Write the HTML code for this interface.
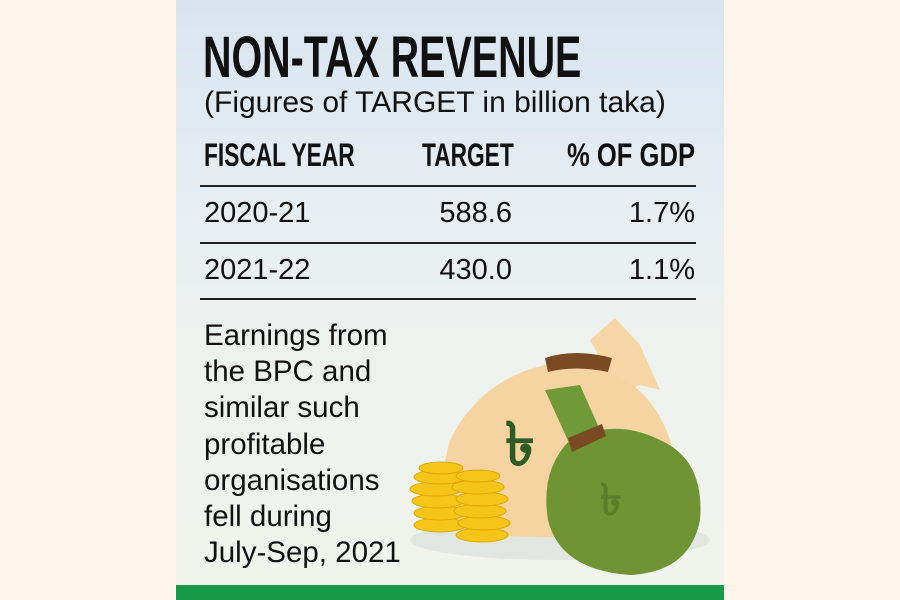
<!DOCTYPE html>
<html><head><meta charset="utf-8"><style>
html,body{margin:0;padding:0}
body{width:900px;height:600px;background:#fdf4ea;position:relative;overflow:hidden;font-family:"Liberation Sans",sans-serif;color:#111}
#panel{position:absolute;left:176px;top:0;width:548px;height:600px;background:linear-gradient(#d9e4ef 0%,#e6edf2 30%,#eef2ee 60%,#f1f4ec 100%)}
#bar{position:absolute;left:176px;top:585px;width:548px;height:15px;background:#179a49}
.t{position:absolute;white-space:nowrap;transform-origin:left top}
.b{font-weight:bold}
.rt{position:absolute;white-space:nowrap;text-align:right}
.line{position:absolute;left:200px;width:496px;height:2px;background:#222}
</style></head><body>
<div id="panel"></div>
<div id="bar"></div>
<div class="t b" style="left:203px;top:24px;font-size:58px;transform:scaleX(0.68)">NON-TAX REVENUE</div>
<div class="t" style="left:204px;top:86px;font-size:30px;">(Figures of TARGET in billion taka)</div>
<div class="t b" style="left:204px;top:137px;font-size:32px;transform:scaleX(0.71)">FISCAL YEAR</div>
<div class="t b" style="left:422px;top:137px;font-size:32px;transform:scaleX(0.71)">TARGET</div>
<div class="t b" style="left:567px;top:137px;font-size:32px;transform:scaleX(0.80)">% OF GDP</div>
<div class="line" style="top:185px"></div>
<div class="t" style="left:204px;top:197px;font-size:29px">2020-21</div>
<div class="rt" style="right:388px;top:197px;font-size:29px">588.6</div>
<div class="rt" style="right:205px;top:197px;font-size:29px">1.7%</div>
<div class="line" style="top:242px"></div>
<div class="t" style="left:204px;top:254px;font-size:29px">2021-22</div>
<div class="rt" style="right:388px;top:254px;font-size:29px">430.0</div>
<div class="rt" style="right:205px;top:254px;font-size:29px">1.1%</div>
<div class="line" style="top:298px"></div>
<div class="t" style="left:204px;top:318px;font-size:29.5px;line-height:36.2px">Earnings from<br>the BPC and<br>similar such<br>profitable<br>organisations<br>fell during<br>July-Sep, 2021</div>
<svg style="position:absolute;left:0;top:0" width="900" height="600">
<ellipse cx="560" cy="540" rx="150" ry="20" fill="#e2e6e0"/>
<path d="M590 340 L615 318 L640 345 L660 390 L640 385 L620 395 Z" fill="#f7d6a6"/>
<path d="M545 365 Q480 380 450 440 Q430 510 470 535 L640 540 Q690 510 670 440 Q650 380 590 365 Z" fill="#f6d4a2"/>
<path d="M545 358 Q575 348 612 358 L608 372 Q575 365 548 372 Z" fill="#7a4a22"/>
<text x="505" y="465" font-family="Liberation Serif,serif" font-size="60" font-weight="bold" fill="#2e5a24">৳</text>
<g fill="#f5c618" stroke="#e0a800" stroke-width="1">
<ellipse cx="440" cy="525" rx="26" ry="7"/><ellipse cx="440" cy="513" rx="26" ry="7"/><ellipse cx="438" cy="501" rx="26" ry="7"/><ellipse cx="436" cy="489" rx="26" ry="7"/><ellipse cx="440" cy="477" rx="26" ry="7"/><ellipse cx="441" cy="468" rx="22" ry="6"/>
<ellipse cx="482" cy="535" rx="26" ry="7"/><ellipse cx="484" cy="523" rx="26" ry="7"/><ellipse cx="480" cy="511" rx="26" ry="7"/><ellipse cx="482" cy="499" rx="26" ry="7"/><ellipse cx="478" cy="487" rx="26" ry="7"/><ellipse cx="478" cy="476" rx="22" ry="6"/>
</g>
<path d="M545 390 L580 385 L600 430 L570 445 Z" fill="#6f9a37"/>
<path d="M570 440 Q540 470 548 520 Q560 570 630 575 Q690 572 700 520 Q705 460 660 440 Q630 425 600 430 Z" fill="#6e9433"/>
<path d="M568 438 L602 424 L606 436 L572 452 Z" fill="#7a4a22"/>
<text x="600" y="515" font-family="Liberation Serif,serif" font-size="44" font-weight="bold" fill="#5a7d2a">৳</text>
</svg>
</body></html>
